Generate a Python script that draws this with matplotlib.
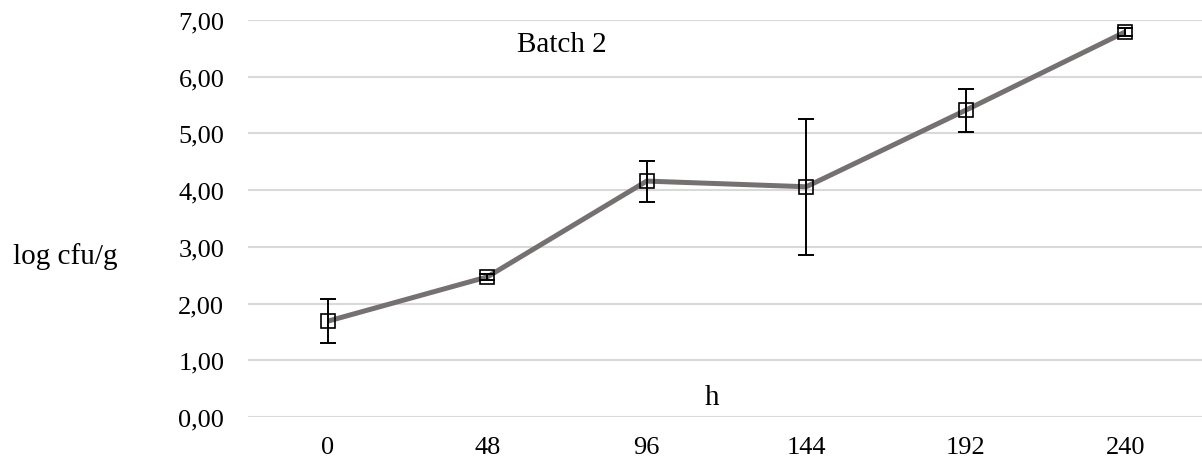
import matplotlib.pyplot as plt
import numpy as np

plt.rcParams['font.family'] = ['Liberation Serif', 'DejaVu Serif']

hours = ['0', '48', '96', '144', '192', '240']
log_cfu = [1.69, 2.47, 4.16, 4.06, 5.41, 6.79]
err = [0.39, 0.05, 0.36, 1.20, 0.38, 0.07]
y_ticks = [0, 1, 2, 3, 4, 5, 6, 7]

fig = plt.figure(figsize=(12.02, 4.64), dpi=100)
ax = fig.add_axes([0.2063, 0.0991, 0.7962, 0.8556])

x = np.arange(len(hours))
ax.plot(x, log_cfu, color='#767171', lw=3.6, solid_capstyle='butt', zorder=2)
ax.errorbar(x, log_cfu, yerr=err, fmt='none', ecolor='black', elinewidth=1.4,
            capsize=6, capthick=1.4, zorder=3)
ax.plot(x, log_cfu, ls='none', marker='s', ms=9.5, mfc='none', mec='black',
        mew=1.2, zorder=4)

ax.set_xlim(-0.5, len(hours) - 0.5)
ax.set_ylim(0, 7)
ax.set_xticks(x)
ax.set_xticklabels(hours)
ax.set_yticks(y_ticks)
ax.set_yticklabels([f'{v:.2f}'.replace('.', ',') for v in y_ticks])
ax.tick_params(length=0, labelsize=19)
ax.tick_params(axis='y', pad=17)
ax.tick_params(axis='x', pad=14)
ax.grid(axis='y', color='#d9d9d9', lw=1.5)
ax.set_axisbelow(True)
for s in ax.spines.values():
    s.set_visible(False)

ax.text(1.47, 6.58, 'Batch 2', fontsize=21, ha='center', va='center')
ax.text(2.41, 0.35, 'h', fontsize=21, ha='center', va='center')
fig.text(65 / 1202, 1 - 257 / 464, 'log cfu/g', fontsize=21, ha='center', va='center')

fig.savefig('out.png', dpi=100)
